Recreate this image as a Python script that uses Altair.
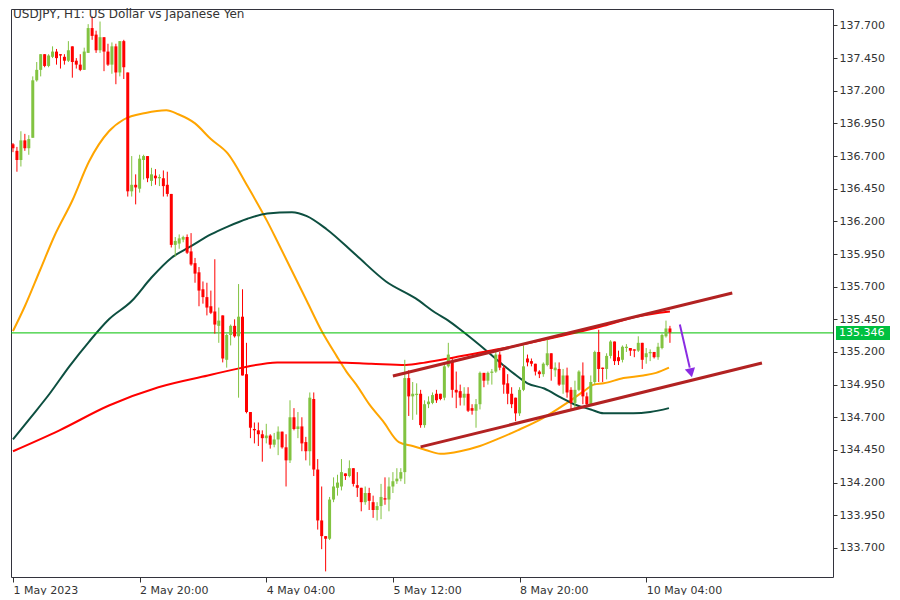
import altair as alt
import pandas as pd

# ---------------- data ----------------
bar_index = list(range(167))
open_ = [136.79, 136.74, 136.67, 136.82, 136.76, 136.84, 137.28, 137.36, 137.48, 137.39,
         137.46, 137.50, 137.48, 137.46, 137.43, 137.54, 137.43, 137.40, 137.36, 137.49,
         137.68, 137.63, 137.51, 137.61, 137.50, 137.40, 137.54, 137.34, 137.58, 137.34,
         136.43, 136.48, 136.45, 136.67, 136.70, 136.51, 136.55, 136.53, 136.53, 136.48,
         136.41, 136.02, 136.03, 136.06, 136.08, 135.97, 135.88, 135.81, 135.68, 135.62,
         135.55, 135.51, 135.40, 135.48, 135.14, 135.33, 135.40, 135.32, 135.47, 135.03,
         134.74, 134.61, 134.60, 134.57, 134.54, 134.56, 134.49, 134.53, 134.59, 134.47,
         134.37, 134.70, 134.61, 134.63, 134.51, 134.44, 134.84, 134.30, 133.91, 133.79,
         133.77, 134.07, 134.16, 134.17, 134.27, 134.25, 134.31, 134.18, 134.16, 134.05,
         134.12, 134.05, 133.99, 134.02, 134.08, 134.07, 134.17, 134.21, 134.23, 134.28,
         135.00, 134.86, 134.87, 134.88, 134.64, 134.80, 134.81, 134.88, 134.88, 134.85,
         135.09, 135.13, 134.91, 134.90, 134.85, 134.88, 134.77, 134.75, 134.80, 135.04,
         134.98, 135.04, 135.05, 135.18, 135.08, 134.96, 134.88, 134.85, 134.73, 134.91,
         135.15, 135.13, 135.11, 135.05, 135.03, 135.10, 135.19, 135.06, 135.07, 134.95,
         135.02, 134.91, 134.81, 134.91, 135.02, 134.86, 134.80, 134.97, 135.20, 135.08,
         135.07, 135.17, 135.28, 135.16, 135.14, 135.23, 135.23, 135.22, 135.21, 135.27,
         135.16, 135.19, 135.20, 135.16, 135.23, 135.32, 135.38]
high = [136.80, 136.77, 136.89, 136.87, 136.86, 137.31, 137.42, 137.48, 137.48, 137.48,
        137.54, 137.52, 137.48, 137.48, 137.58, 137.54, 137.45, 137.48, 137.53, 137.71,
        137.77, 137.66, 137.73, 137.61, 137.56, 137.57, 137.56, 137.58, 137.59, 137.34,
        136.70, 136.56, 136.71, 136.71, 136.70, 136.61, 136.60, 136.56, 136.59, 136.58,
        136.41, 136.08, 136.10, 136.09, 136.10, 136.11, 135.92, 135.85, 135.74, 135.73,
        135.67, 135.91, 135.54, 135.48, 135.34, 135.41, 135.45, 135.72, 135.68, 135.27,
        134.74, 134.66, 134.66, 134.60, 134.65, 134.57, 134.58, 134.63, 134.59, 134.57,
        134.83, 134.77, 134.74, 134.70, 134.55, 134.89, 134.89, 134.38, 134.17, 133.79,
        134.09, 134.24, 134.26, 134.38, 134.27, 134.37, 134.31, 134.28, 134.16, 134.17,
        134.16, 134.10, 134.05, 134.19, 134.24, 134.24, 134.28, 134.31, 134.31, 135.14,
        135.06, 134.97, 134.96, 134.91, 134.83, 134.86, 134.89, 134.91, 134.88, 135.11,
        135.27, 135.16, 135.05, 134.95, 134.93, 134.93, 134.80, 134.84, 135.05, 135.04,
        135.05, 135.07, 135.21, 135.20, 135.10, 135.03, 134.93, 134.85, 134.93, 135.25,
        135.18, 135.15, 135.11, 135.06, 135.12, 135.30, 135.19, 135.12, 135.12, 135.07,
        135.08, 134.93, 134.98, 135.06, 135.12, 134.89, 135.02, 135.21, 135.37, 135.08,
        135.19, 135.29, 135.28, 135.21, 135.25, 135.26, 135.23, 135.22, 135.32, 135.27,
        135.23, 135.22, 135.20, 135.27, 135.34, 135.44, 135.40]
low = [136.73, 136.58, 136.62, 136.74, 136.71, 136.84, 137.27, 137.31, 137.38, 137.38,
       137.45, 137.40, 137.37, 137.40, 137.42, 137.30, 137.37, 137.35, 137.36, 137.49,
       137.59, 137.49, 137.49, 137.35, 137.39, 137.33, 137.25, 137.31, 137.29, 136.39,
       136.39, 136.33, 136.42, 136.52, 136.50, 136.47, 136.48, 136.47, 136.39, 136.39,
       136.00, 135.93, 135.99, 136.04, 135.95, 135.86, 135.73, 135.55, 135.57, 135.48,
       135.49, 135.34, 135.27, 135.12, 135.08, 135.25, 135.31, 134.85, 135.02, 134.73,
       134.54, 134.50, 134.48, 134.36, 134.50, 134.46, 134.47, 134.41, 134.46, 134.17,
       134.35, 134.60, 134.54, 134.44, 134.37, 134.33, 134.25, 133.84, 133.69, 133.52,
       133.76, 134.05, 134.10, 134.14, 134.22, 134.24, 134.17, 134.09, 133.98, 134.03,
       133.99, 133.93, 133.91, 133.92, 134.03, 133.98, 134.12, 134.19, 134.21, 134.19,
       134.71, 134.68, 134.72, 134.62, 134.62, 134.77, 134.80, 134.81, 134.83, 134.83,
       135.08, 134.85, 134.77, 134.79, 134.79, 134.74, 134.72, 134.62, 134.76, 134.93,
       134.95, 134.95, 135.04, 135.06, 134.88, 134.80, 134.77, 134.67, 134.71, 134.90,
       135.09, 135.09, 135.02, 135.00, 135.01, 135.09, 134.98, 135.01, 134.94, 134.88,
       134.85, 134.75, 134.77, 134.90, 134.80, 134.78, 134.79, 134.95, 134.97, 134.97,
       134.99, 135.15, 135.10, 135.10, 135.12, 135.20, 135.17, 135.16, 135.20, 135.07,
       135.11, 135.13, 135.15, 135.14, 135.22, 135.31, 135.27]
close = [136.76, 136.67, 136.82, 136.76, 136.83, 137.28, 137.36, 137.48, 137.39, 137.47,
         137.50, 137.45, 137.47, 137.43, 137.51, 137.42, 137.40, 137.36, 137.50, 137.68,
         137.62, 137.51, 137.61, 137.50, 137.40, 137.54, 137.34, 137.58, 137.38, 136.43,
         136.48, 136.46, 136.68, 136.70, 136.53, 136.56, 136.53, 136.54, 136.47, 136.41,
         136.02, 136.05, 136.07, 136.08, 135.96, 135.87, 135.80, 135.67, 135.62, 135.54,
         135.50, 135.41, 135.44, 135.15, 135.33, 135.40, 135.32, 135.47, 135.02, 134.74,
         134.62, 134.60, 134.57, 134.54, 134.56, 134.49, 134.53, 134.59, 134.47, 134.37,
         134.70, 134.61, 134.63, 134.50, 134.44, 134.85, 134.30, 133.91, 133.79, 133.77,
         134.07, 134.17, 134.20, 134.28, 134.25, 134.31, 134.19, 134.16, 134.05, 134.12,
         134.06, 133.99, 134.02, 134.09, 134.07, 134.17, 134.21, 134.23, 134.28, 135.00,
         134.86, 134.88, 134.88, 134.64, 134.80, 134.82, 134.87, 134.83, 134.84, 135.09,
         135.18, 134.91, 134.89, 134.85, 134.88, 134.75, 134.75, 134.80, 135.04, 134.98,
         135.04, 135.05, 135.18, 135.08, 134.95, 134.88, 134.80, 134.73, 134.91, 135.09,
         135.12, 135.11, 135.05, 135.03, 135.11, 135.19, 135.07, 135.08, 134.95, 135.02,
         134.89, 134.81, 134.91, 135.05, 134.86, 134.80, 134.97, 135.20, 135.07, 135.07,
         135.17, 135.28, 135.13, 135.13, 135.24, 135.24, 135.21, 135.21, 135.27, 135.14,
         135.19, 135.20, 135.16, 135.24, 135.33, 135.38, 135.35]

tick_index = [0, 32, 64, 96, 128, 160]
tick_labels = ["1 May 2023", "2 May 20:00", "4 May 04:00", "5 May 12:00", "8 May 20:00", "10 May 04:00"]
price_ticks = [133.70, 133.95, 134.20, 134.45, 134.70, 134.95, 135.20, 135.45, 135.70,
               135.95, 136.20, 136.45, 136.70, 136.95, 137.20, 137.45, 137.70]

# moving-average style curves
fast_idx = [0, 3, 6.75, 10.5, 15, 19.25, 24.25, 28, 33.5, 38.75, 41.75, 46, 50, 54.25, 59.25,
            64.25, 66.75, 70.5, 74.25, 78, 81.75, 84.25, 86.75, 90, 93.5, 97.5, 101, 104.25,
            108, 113, 118, 123, 127.5, 134.25, 140, 144.25, 146.75, 149.25, 154.25, 159.25,
            162.5, 165.75]
fast_price = [135.36, 135.55, 135.82, 136.09, 136.36, 136.66, 136.89, 136.98, 137.03, 137.05,
              137.02, 136.95, 136.83, 136.72, 136.47, 136.20, 136.05, 135.82, 135.59, 135.36,
              135.17, 135.05, 134.95, 134.80, 134.67, 134.51, 134.48, 134.45, 134.42, 134.44,
              134.48, 134.54, 134.60, 134.70, 134.81, 134.90, 134.95, 134.96, 135.00, 135.02,
              135.04, 135.08]
slow_idx = [0, 4.25, 9.25, 14.25, 19.25, 24.25, 30, 35, 40, 45, 50, 54.25, 59.25, 64.25, 70.5,
            74.25, 79.25, 86.75, 94.25, 101.75, 106.75, 110, 113.5, 120, 124.25, 126.75, 130,
            134.25, 138.5, 141.75, 146, 149.25, 156.75, 161, 165.75]
slow_price = [134.53, 134.69, 134.88, 135.09, 135.28, 135.45, 135.59, 135.77, 135.92, 136.01,
              136.10, 136.16, 136.22, 136.26, 136.27, 136.24, 136.14, 135.94, 135.74, 135.61,
              135.50, 135.44, 135.36, 135.20, 135.09, 135.03, 134.96, 134.92, 134.85, 134.80,
              134.76, 134.73, 134.73, 134.74, 134.77]
long_idx = [0, 11.75, 24.25, 36.75, 49.25, 58, 66.75, 74.25, 81.75, 90.5, 99.25, 104.25,
            111.75, 124.25, 136.75, 149.25, 157.5, 166]
long_price = [134.44, 134.60, 134.79, 134.93, 135.02, 135.08, 135.12, 135.12, 135.12, 135.11,
              135.10, 135.12, 135.16, 135.23, 135.31, 135.40, 135.47, 135.51]

# drawn channel lines and arrow
upper_idx = [96, 181.75]
upper_price = [135.016, 135.652]
lower_idx = [103, 189.25]
lower_price = [134.473, 135.116]
arrow_idx = [168.5, 171.0]
arrow_price = [135.41, 135.08]
arrow_head_idx = [171.3]
arrow_head_price = [135.04]

last_price = 135.346
title_text = "USDJPY, H1:  US Dollar vs Japanese Yen"

# ---------------- styling ----------------
BULL = "#82c341"
BEAR = "#ff0000"
FONT = "DejaVu Sans"
TEXT = "#333333"
W, H = 822, 568

label_expr = "datum.value == {} ? '{}'".format(tick_index[0], tick_labels[0])
for v, t in zip(tick_index[1:], tick_labels[1:]):
    label_expr += " : datum.value == {} ? '{}'".format(v, t)
label_expr += " : ''"

xscale = alt.Scale(domain=[-0.5, 207.2], nice=False, zero=False, padding=0)
yscale = alt.Scale(domain=[133.477, 137.826], nice=False, zero=False, padding=0)
xaxis = alt.Axis(values=tick_index, labelExpr=label_expr, labelAlign="left", labelPadding=2,
                 tickSize=5, tickColor=TEXT, domain=False, grid=False, labelFont=FONT,
                 labelFontSize=11, labelColor=TEXT, labelOverlap=False, labelFlush=False,
                 labelBound=False)
yaxis = alt.Axis(orient="right", values=price_ticks, format=".3f", tickSize=4, tickColor=TEXT,
                 labelPadding=2, domain=False, grid=False, labelFont=FONT, labelFontSize=11,
                 labelColor=TEXT, labelOverlap=False, labelFlush=False, labelBound=False)


def X(field):
    return alt.X(field, type="quantitative", scale=xscale, axis=xaxis, title=None)


def Y(field):
    return alt.Y(field, type="quantitative", scale=yscale, axis=yaxis, title=None)


candles = pd.DataFrame({"i": bar_index, "open": open_, "high": high, "low": low, "close": close})
candle_color = alt.condition("datum.close >= datum.open", alt.value(BULL), alt.value(BEAR))

wicks = alt.Chart(candles).mark_rule(strokeWidth=1).encode(
    x=X("i"), y=Y("low"), y2="high", color=candle_color)
bodies = alt.Chart(candles).mark_bar(size=3).encode(
    x=X("i"), y=Y("open"), y2="close", color=candle_color)


def curve(xs, ys, color, width, interp="monotone"):
    df = pd.DataFrame({"i": xs, "price": ys})
    return alt.Chart(df).mark_line(color=color, strokeWidth=width, interpolate=interp).encode(
        x=X("i"), y=Y("price"))


fast = curve(fast_idx, fast_price, "#ffa500", 2)
slow = curve(slow_idx, slow_price, "#0d4f40", 2)
longma = curve(long_idx, long_price, "#ff0000", 2)
upper = curve(upper_idx, upper_price, "#b22222", 3, "linear")
lower = curve(lower_idx, lower_price, "#b22222", 3, "linear")
arrow = curve(arrow_idx, arrow_price, "#8a2be2", 2, "linear")
arrow_head = alt.Chart(pd.DataFrame({"i": arrow_head_idx, "price": arrow_head_price})).mark_point(
    shape="triangle-down", filled=True, size=110, angle=347, color="#8a2be2", opacity=1).encode(
    x=X("i"), y=Y("price"))

last_df = pd.DataFrame({"price": [last_price], "label": ["{:.3f}".format(last_price)]})
last_line = alt.Chart(last_df).mark_rule(color="#00c000", strokeWidth=1).encode(y=Y("price"))
last_box = alt.Chart(last_df).mark_rect(color="#00c040", yOffset=-7, y2Offset=7, clip=False).encode(
    x=alt.value(825), x2=alt.value(879), y=Y("price"), y2="price")
last_text = alt.Chart(last_df).mark_text(align="left", baseline="middle", color="white", font=FONT,
                                         fontSize=11, clip=False).encode(
    x=alt.value(828), y=Y("price"), text="label:N")

title = alt.Chart(pd.DataFrame({"t": [title_text]})).mark_text(
    align="left", baseline="middle", font=FONT, fontSize=12, color=TEXT).encode(
    x=alt.value(2), y=alt.value(5), text="t:N")

chart = alt.layer(
    fast, slow, longma, last_line, wicks, bodies, upper, lower, arrow, arrow_head,
    last_box, last_text, title
).properties(width=W, height=H, padding=0, background="white").configure_view(
    stroke="#33333d", strokeWidth=1)

chart.save("out.html", embed_options={"renderer": "svg", "actions": False})
